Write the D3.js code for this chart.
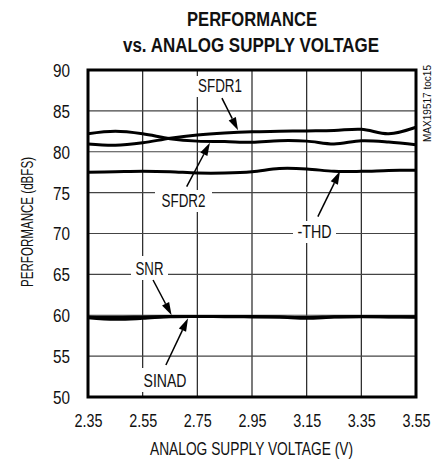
<!DOCTYPE html>
<html><head><meta charset="utf-8">
<script src="https://cdn.jsdelivr.net/npm/d3@7"></script>
<style>
body{margin:0;background:#fff;}
svg text{font-family:"Liberation Sans",Arial,sans-serif;fill:#111;}
</style></head><body>
<svg id="c" width="442" height="460"></svg>
<script>
const voltages = [2.35,2.45,2.55,2.65,2.75,2.85,2.95,3.05,3.15,3.25,3.35,3.45,3.55];
const sfdr1 = [80.95,80.8,81.1,81.65,82.05,82.3,82.45,82.5,82.55,82.6,82.75,82.2,83.0];
const sfdr2 = [82.2,82.5,82.2,81.6,81.3,81.25,81.15,81.35,81.3,80.95,81.35,81.2,80.85];
const thd   = [77.5,77.55,77.6,77.55,77.4,77.4,77.55,77.95,77.9,77.6,77.6,77.7,77.75];
const snr   = [59.8,59.75,59.8,59.85,59.85,59.85,59.85,59.8,59.72,59.82,59.85,59.82,59.82];
const sinad = [59.7,59.5,59.62,59.82,59.85,59.82,59.8,59.78,59.62,59.78,59.82,59.8,59.75];
const xTicks = [2.35,2.55,2.75,2.95,3.15,3.35,3.55];
const yTicks = [50,55,60,65,70,75,80,85,90];
const series = [sfdr1, sfdr2, thd, snr, sinad];
const labels = [
  {text:"SFDR1", w:44, ax:[2.840,86.57], tip:[2.899,82.62], bx:[194,246,76,97]},
  {text:"SFDR2", w:44, ax:[2.711,75.73], tip:[2.796,81.1], bx:[155,212,190,212]},
  {text:"-THD",  w:34, ax:[3.191,72.06], tip:[3.272,77.6], bx:[293,336,221,243]},
  {text:"SNR",   w:28, ax:[2.588,64.31], tip:[2.656,60.0], bx:[131,168,256,280]},
  {text:"SINAD", w:43, ax:[2.635,53.91], tip:[2.716,59.62], bx:[140,190,368,392]}
];

const svg = d3.select("#c");
const L=88, R=416, T=70, B=397;
const x = d3.scaleLinear().domain([2.35,3.55]).range([L,R]);
const y = d3.scaleLinear().domain([50,90]).range([B,T]);

// title
svg.append("text").attr("x",252).attr("y",26).attr("text-anchor","middle")
  .attr("font-weight","bold").attr("font-size",20).attr("textLength",130).attr("lengthAdjust","spacingAndGlyphs")
  .text("PERFORMANCE");
svg.append("text").attr("x",251).attr("y",51.5).attr("text-anchor","middle")
  .attr("font-weight","bold").attr("font-size",20).attr("textLength",256).attr("lengthAdjust","spacingAndGlyphs")
  .text("vs. ANALOG SUPPLY VOLTAGE");

// grid
const g = svg.append("g");
g.selectAll(".gx").data(xTicks.slice(1,-1)).enter().append("line")
  .attr("x1",d=>x(d)).attr("x2",d=>x(d)).attr("y1",T).attr("y2",B)
  .attr("stroke","#222").attr("stroke-width",1.2);
g.selectAll(".gy").data(yTicks.slice(1,-1)).enter().append("line")
  .attr("y1",d=>y(d)).attr("y2",d=>y(d)).attr("x1",L).attr("x2",R)
  .attr("stroke","#444").attr("stroke-width",1.2);

// label boxes (break gridlines)
labels.forEach(l=>{
  g.append("rect").attr("x",l.bx[0]).attr("y",l.bx[2]).attr("width",l.bx[1]-l.bx[0]).attr("height",l.bx[3]-l.bx[2]).attr("fill","#fff");
});

// lines
const line = d3.line().x((d,i)=>x(voltages[i])).y(d=>y(d)).curve(d3.curveCatmullRom.alpha(0.5));
series.forEach(s=>{
  svg.append("path").datum(s).attr("d",line).attr("fill","none").attr("stroke","#000").attr("stroke-width",3);
});

// axes via d3
const xAxis = d3.axisBottom(x).tickValues(xTicks).tickSize(0).tickPadding(0).tickFormat(d3.format(".2f"));
const ax = svg.append("g").attr("transform",`translate(0,${B})`).call(xAxis);
ax.select(".domain").remove();
ax.selectAll("text").attr("y",30).attr("dy",0).attr("font-size",18).attr("fill","#111")
  .attr("textLength",28).attr("lengthAdjust","spacingAndGlyphs");
const yAxis = d3.axisLeft(y).tickValues(yTicks).tickSize(0).tickPadding(0);
const ay = svg.append("g").attr("transform",`translate(${L},0)`).call(yAxis);
ay.select(".domain").remove();
ay.selectAll("text").attr("x",-18).attr("dy","0.36em").attr("font-size",18).attr("fill","#111")
  .attr("textLength",17).attr("lengthAdjust","spacingAndGlyphs");
svg.selectAll(".tick text").attr("font-family",null);

// frame
svg.append("rect").attr("x",L).attr("y",T).attr("width",R-L).attr("height",B-T)
  .attr("fill","none").attr("stroke","#000").attr("stroke-width",3);

// arrows + labels
labels.forEach(l=>{
  const x1=x(l.ax[0]), y1=y(l.ax[1]), x2=x(l.tip[0]), y2=y(l.tip[1]);
  const ang=Math.atan2(y2-y1,x2-x1), hl=13, hw=4;
  const bx=x2-hl*Math.cos(ang), by=y2-hl*Math.sin(ang);
  svg.append("line").attr("x1",x1).attr("y1",y1).attr("x2",bx).attr("y2",by).attr("stroke","#000").attr("stroke-width",1.5);
  const p=[[x2,y2],[bx+hw*Math.sin(ang),by-hw*Math.cos(ang)],[bx-hw*Math.sin(ang),by+hw*Math.cos(ang)]];
  svg.append("path").attr("d","M"+p.map(q=>q.join(",")).join("L")+"Z").attr("fill","#000");
  svg.append("text").attr("x",(l.bx[0]+l.bx[1])/2).attr("y",l.bx[3]-5).attr("text-anchor","middle")
    .attr("font-size",18).attr("textLength",l.w).attr("lengthAdjust","spacingAndGlyphs").text(l.text);
});

// axis titles
svg.append("text").attr("x",251.5).attr("y",455).attr("text-anchor","middle").attr("font-size",18)
  .attr("textLength",203).attr("lengthAdjust","spacingAndGlyphs").text("ANALOG SUPPLY VOLTAGE (V)");
svg.append("text").attr("transform","translate(33,222) rotate(-90)").attr("text-anchor","middle").attr("font-size",16)
  .attr("textLength",130).attr("lengthAdjust","spacingAndGlyphs").text("PERFORMANCE (dBFS)");
svg.append("text").attr("transform","translate(431,103.5) rotate(-90)").attr("text-anchor","middle").attr("font-size",11)
  .attr("textLength",77).attr("lengthAdjust","spacingAndGlyphs").text("MAX19517 toc15");
</script></body></html>
